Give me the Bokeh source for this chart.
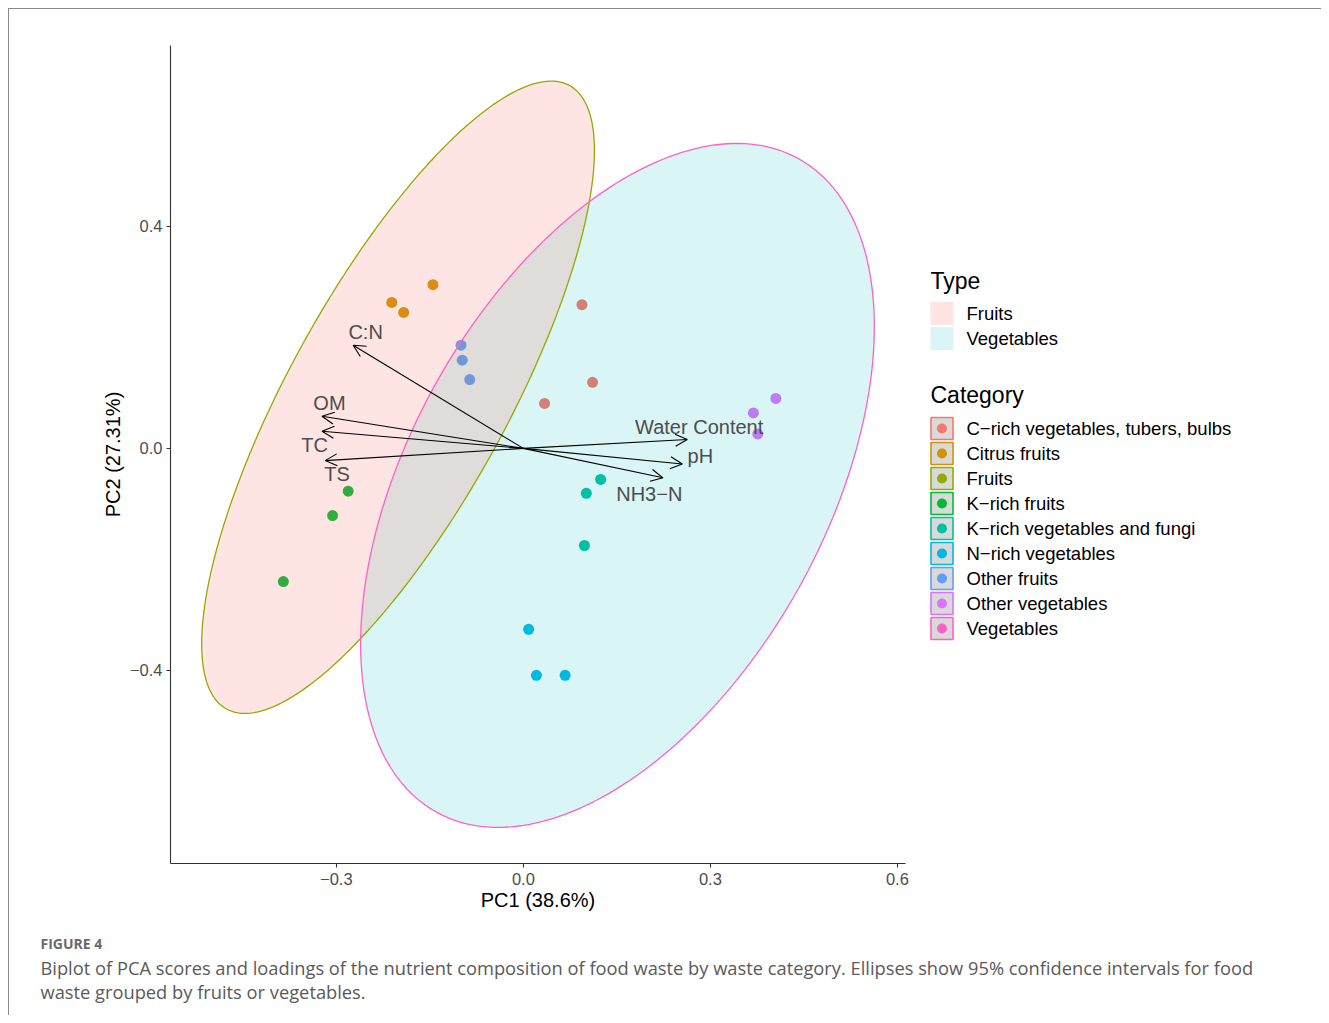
import numpy as np
from bokeh.plotting import figure
from bokeh.models import Range1d, FixedTicker, CustomJSTickFormatter, Arrow, OpenHead, ColumnDataSource
from bokeh.layouts import row, column
from bokeh.embed import file_html
from bokeh.resources import INLINE
from bokeh.core.properties import value

# ---------------- data ----------------
categories = ["C\u2212rich vegetables, tubers, bulbs", "Citrus fruits", "Fruits", "K\u2212rich fruits",
              "K\u2212rich vegetables and fungi", "N\u2212rich vegetables", "Other fruits",
              "Other vegetables", "Vegetables"]
category_colors = ["#F8766D", "#D39200", "#93AA00", "#00BA38", "#00C19F", "#00B9E3",
                   "#619CFF", "#DB72FB", "#FF61C3"]

point_category = ([0] * 3 + [1] * 3 + [3] * 3 + [4] * 3 + [5] * 3 + [6] * 3 + [7] * 3)
pc1 = [0.094, 0.111, 0.034,
       -0.145, -0.211, -0.192,
       -0.281, -0.306, -0.385,
       0.124, 0.101, 0.098,
       0.0085, 0.021, 0.067,
       -0.100, -0.098, -0.086,
       0.405, 0.369, 0.376]
pc2 = [0.259, 0.119, 0.081,
       0.295, 0.263, 0.245,
       -0.077, -0.121, -0.240,
       -0.056, -0.081, -0.175,
       -0.326, -0.409, -0.409,
       0.186, 0.159, 0.124,
       0.090, 0.064, 0.026]

loading_names = ["C:N", "OM", "TC", "TS", "Water Content", "pH", "NH3\u2212N"]
loading_pc1 = [-0.273, -0.323, -0.323, -0.318, 0.263, 0.255, 0.224]
loading_pc2 = [0.186, 0.058, 0.031, -0.022, 0.016, -0.028, -0.053]
label_pc1 = [-0.253, -0.311, -0.335, -0.299, 0.282, 0.284, 0.202]
label_pc2 = [0.209, 0.082, 0.007, -0.047, 0.038, -0.013, -0.082]

types = ["Fruits", "Vegetables"]
type_fill = ["#F8766D", "#00BFC4"]
type_alpha = [0.2, 0.15]
type_line = ["#93AA00", "#FF61C3"]
ellipse_center_x = [-0.2010, 0.1510]
ellipse_center_y = [0.0921, -0.0667]
ellipse_sd_x = [0.3150, 0.4120]
ellipse_sd_y = [0.5697, 0.6162]
ellipse_corr = [0.78, 0.464]

x_ticks = [-0.3, 0.0, 0.3, 0.6]
y_ticks = [-0.4, 0.0, 0.4]

figure_label = "FIGURE 4"
caption_lines = ["Biplot of PCA scores and loadings of the nutrient composition of food waste by waste category. Ellipses show 95% confidence intervals for food",
                 "waste grouped by fruits or vegetables."]

FONT = "Liberation Sans"

# ---------------- main plot ----------------
p = figure(width=915, height=920, x_range=Range1d(-0.566, 0.613), y_range=Range1d(-0.748, 0.726),
           toolbar_location=None, output_backend="svg",
           min_border_left=161, min_border_right=19, min_border_top=36, min_border_bottom=66)
p.grid.visible = False
p.outline_line_color = None
p.background_fill_color = "white"
p.border_fill_color = "white"

p.xaxis.ticker = FixedTicker(ticks=x_ticks)
p.yaxis.ticker = FixedTicker(ticks=y_ticks)
fmt = "return (tick < 0 ? '\\u2212' : '') + Math.abs(tick).toFixed(1);"
p.xaxis.formatter = CustomJSTickFormatter(code=fmt)
p.yaxis.formatter = CustomJSTickFormatter(code=fmt)
p.xaxis.axis_label = "PC1 (38.6%)"
p.yaxis.axis_label = "PC2 (27.31%)"
for ax in (p.xaxis[0], p.yaxis[0]):
    ax.axis_line_color = "#333333"
    ax.axis_line_width = 1.1
    ax.major_tick_line_color = "#333333"
    ax.major_tick_line_width = 1.1
    ax.major_tick_out = 4
    ax.major_tick_in = 0
    ax.minor_tick_line_color = None
    ax.major_label_text_color = "#4D4D4D"
    ax.major_label_text_font = FONT
    ax.major_label_text_font_size = "16.5px"
    ax.axis_label_text_font = FONT
    ax.axis_label_text_font_size = "20px"
    ax.axis_label_text_font_style = "normal"
    ax.axis_label_text_color = "black"
p.xaxis.major_label_standoff = 5
p.yaxis.major_label_standoff = 4
p.xaxis.axis_label_standoff = 1
p.yaxis.axis_label_standoff = 3

# points (under the translucent ellipse fills)
p.scatter(x=pc1, y=pc2, size=11, color=[category_colors[i] for i in point_category], line_color=None)

# ellipses
t = np.linspace(0, 2 * np.pi, 240)
ell_xs, ell_ys = [], []
for cx, cy, sx, sy, r in zip(ellipse_center_x, ellipse_center_y, ellipse_sd_x, ellipse_sd_y, ellipse_corr):
    ell_xs.append(cx + sx * np.cos(t))
    ell_ys.append(cy + sy * (r * np.cos(t) + np.sqrt(1 - r * r) * np.sin(t)))
for i in (1, 0):
    p.patch(ell_xs[i], ell_ys[i], fill_color=type_fill[i], fill_alpha=type_alpha[i], line_color=None)
for i in (0, 1):
    p.line(ell_xs[i], ell_ys[i], line_color=type_line[i], line_width=1.3)

# loadings
origin = [0.0] * len(loading_names)
src = ColumnDataSource(dict(x0=origin, y0=origin, x1=loading_pc1, y1=loading_pc2))
p.add_layout(Arrow(end=OpenHead(size=12, line_width=1.1, line_color="black"),
                   x_start="x0", y_start="y0", x_end="x1", y_end="y1", source=src,
                   line_color="black", line_width=1.1))
p.text(x=label_pc1, y=label_pc2, text=loading_names, text_font=value(FONT), text_font_size="20px",
       text_color="#4D4D4D", text_align="center", text_baseline="middle")

# ---------------- legend panel ----------------
# its frame is aligned with the main frame (page y 45..863)
lg = figure(width=397, height=920, x_range=Range1d(924, 1321), y_range=Range1d(863, 45),
            toolbar_location=None, output_backend="svg", x_axis_type=None, y_axis_type=None,
            min_border_left=0, min_border_right=0, min_border_top=36, min_border_bottom=66)
lg.grid.visible = False
lg.outline_line_color = None

key_x = 941.5
text_x = 966
type_title_y = 280
type_item_y = [313, 338]
cat_title_y = 394
cat_item_y = [428 + 25 * i for i in range(len(categories))]

lg.text(x=[930, 930], y=[type_title_y, cat_title_y], text=["Type", "Category"], text_font=value(FONT),
        text_font_size="23px", text_color="black", text_align="left", text_baseline="middle")
lg.rect(x=[key_x] * 2, y=type_item_y, width=23, height=23, fill_color=type_fill, fill_alpha=type_alpha,
        line_color=None)
lg.text(x=[text_x] * 2, y=type_item_y, text=types, text_font=value(FONT), text_font_size="18.5px",
        text_color="black", text_align="left", text_baseline="middle")
lg.rect(x=[key_x] * len(categories), y=cat_item_y, width=22, height=22, fill_color="#D9D9D9",
        line_color=category_colors, line_width=1.6)
lg.scatter(x=[key_x] * len(categories), y=cat_item_y, size=10, color=category_colors, line_color=None)
lg.text(x=[text_x] * len(categories), y=cat_item_y, text=categories, text_font=value(FONT),
        text_font_size="18.5px", text_color="black", text_align="left", text_baseline="middle")

# ---------------- caption ----------------
cap = figure(width=1312, height=86, x_range=Range1d(9, 1321), y_range=Range1d(1015, 929),
             toolbar_location=None, output_backend="svg", x_axis_type=None, y_axis_type=None, min_border=0)
cap.grid.visible = False
cap.outline_line_color = None
cap.text(x=[40], y=[943], text=[figure_label], text_font=value("Open Sans"), text_font_size="14px",
         text_font_style="bold", text_color="#6a6a6a", text_align="left", text_baseline="middle")
cap.text(x=[40, 40], y=[967, 991], text=caption_lines, text_font=value("Open Sans"), text_font_size="18.3px",
         text_color="#5a5a5a", text_align="left", text_baseline="middle")

layout = column(row(p, lg), cap,
                styles={"margin-top": "8px", "margin-left": "8px",
                        "border-top": "1px solid #8a8a8a", "border-left": "1px solid #8a8a8a"})

with open("out.html", "w", encoding="utf-8") as f:
    f.write(file_html(layout, INLINE))
